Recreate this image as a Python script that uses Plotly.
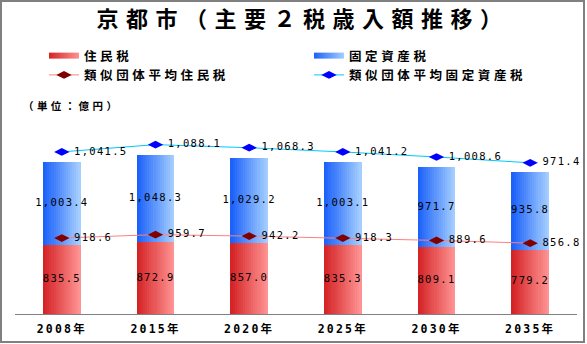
import plotly.graph_objects as go

# ---- data (億円) ----
years = ["2008年", "2015年", "2020年", "2025年", "2030年", "2035年"]
resident_tax = [835.5, 872.9, 857.0, 835.3, 809.1, 779.2]          # 住民税
property_tax = [1003.4, 1048.3, 1029.2, 1003.1, 971.7, 935.8]       # 固定資産税
peer_resident_tax = [918.6, 959.7, 942.2, 918.3, 889.6, 856.8]      # 類似団体平均住民税
peer_property_tax = [1041.5, 1088.1, 1068.3, 1041.2, 1008.6, 971.4]  # 類似団体平均固定資産税

series_names = ["住民税", "固定資産税", "類似団体平均住民税", "類似団体平均固定資産税"]
title_text = "京都市（主要２税歳入額推移）"
unit_text = "（単位：億円）"

# ---- styling ----
CJK = "Noto Sans CJK JP"
MONO = "DejaVu Sans Mono, Noto Sans CJK JP"
RED_L, RED_R = (212, 36, 38), (255, 146, 146)
BLUE_L, BLUE_R = (28, 98, 250), (164, 206, 255)
BAR_W = 0.40
N_SLICES = 18


def spaced(text, px):
    return f'<span style="letter-spacing:{px}px">{text}</span>'


def mix(c0, c1, t):
    return "rgb({},{},{})".format(*[round(a + (b - a) * t) for a, b in zip(c0, c1)])


def fmt(v):
    return f"{v:,.1f}"


fig = go.Figure()

# legend swatches for the two bar series (horizontal gradient fill)
for i, (name, c0, c1) in enumerate([(series_names[0], RED_L, RED_R),
                                     (series_names[1], BLUE_L, BLUE_R)]):
    fig.add_trace(go.Scatter(
        x=[None], y=[None], mode="none", fill="toself",
        fillgradient=dict(type="horizontal",
                          colorscale=[[0, mix(c0, c1, 0)], [1, mix(c0, c1, 1)]]),
        name=spaced(name, 3.6), legendrank=i + 1, hoverinfo="skip"))

# stacked bars drawn as thin vertical slices to get a left-to-right gradient
for vals, base, c0, c1 in [(resident_tax, [0] * len(years), RED_L, RED_R),
                           (property_tax, resident_tax, BLUE_L, BLUE_R)]:
    sw = BAR_W / N_SLICES
    for k in range(N_SLICES):
        fig.add_trace(go.Bar(
            x=years, y=vals, base=base,
            offset=-BAR_W / 2 + k * sw, width=sw * 1.02,
            marker=dict(color=mix(c0, c1, k / (N_SLICES - 1)), line=dict(width=0)),
            showlegend=False, hoverinfo="skip"))

# value labels centred in each bar segment
label_font = dict(family=MONO, size=10.5, color="black")
fig.add_trace(go.Scatter(
    x=years, y=[v / 2 for v in resident_tax], mode="text",
    text=[spaced(fmt(v), 1.3) for v in resident_tax], textfont=label_font,
    cliponaxis=False, showlegend=False, hoverinfo="skip"))
fig.add_trace(go.Scatter(
    x=years, y=[r + p / 2 for r, p in zip(resident_tax, property_tax)], mode="text",
    text=[spaced(fmt(v), 1.3) for v in property_tax], textfont=label_font,
    cliponaxis=False, showlegend=False, hoverinfo="skip"))

# peer-group averages (property tax line stacked on top of the resident tax line)
peer_stack = [r + p for r, p in zip(peer_resident_tax, peer_property_tax)]
for i, (name, yv, labels, lc, mc) in enumerate([
        (series_names[2], peer_resident_tax, peer_resident_tax, "#ff7f7f", "#800000"),
        (series_names[3], peer_stack, peer_property_tax, "#00c8ff", "#0000ff")]):
    fig.add_trace(go.Scatter(
        x=years, y=yv, mode="lines+markers", name=spaced(name, 3.6),
        line=dict(color=lc, width=1),
        marker=dict(symbol="diamond-wide", size=11, color=mc, line=dict(width=0)),
        legendrank=i + 3, cliponaxis=False, hoverinfo="skip"))
    # labels to the right of each marker (invisible spacer markers set the gap)
    fig.add_trace(go.Scatter(
        x=years, y=yv, mode="markers+text", text=[spaced(fmt(v), 1.3) for v in labels],
        textposition="middle right", marker=dict(size=18, opacity=0),
        textfont=label_font, cliponaxis=False, showlegend=False, hoverinfo="skip"))

# outer frame
fig.add_shape(type="rect", xref="paper", yref="paper",
              x0=(1 - 15) / 562, x1=(584 - 15) / 562,
              y0=1 - (342 - 95) / 219, y1=1 - (1 - 95) / 219,
              line=dict(color="#808080", width=2), fillcolor="rgba(0,0,0,0)",
              layer="above")

fig.add_annotation(text=spaced(unit_text, 3.4), xref="paper", yref="paper",
                   x=(21 - 15) / 562, y=1 - (105.7 - 95) / 219,
                   xanchor="left", yanchor="middle", showarrow=False,
                   font=dict(family=CJK, size=10.5, color="black", weight="bold"))

fig.update_layout(
    width=587, height=344,
    margin=dict(l=15, r=10, t=95, b=30, autoexpand=False),
    paper_bgcolor="white", plot_bgcolor="white",
    barmode="overlay", bargap=0,
    title=dict(text=spaced(title_text, 7.5), x=0.516, xanchor="center",
               yref="container", y=(344 - 19) / 344, yanchor="middle",
               font=dict(family=CJK, size=22, color="black", weight="bold")),
    legend=dict(orientation="h", xref="container", yref="container",
                x=44 / 587, xanchor="left", y=1 - 41 / 344, yanchor="top",
                entrywidth=220, entrywidthmode="pixels",
                font=dict(family=CJK, size=12.5, color="black", weight="bold"),
                bgcolor="rgba(0,0,0,0)"),
    xaxis=dict(type="category", categoryorder="array", categoryarray=years,
               tickvals=years, ticktext=[spaced(y, 2.2) for y in years],
               range=[-0.5, len(years) - 0.5],
               showline=True, linecolor="#808080", linewidth=1,
               showgrid=False, zeroline=False, ticks="", ticklabelstandoff=4,
               tickfont=dict(family=MONO, size=11.5, color="black", weight="bold")),
    yaxis=dict(visible=False, range=[0, 2648], showgrid=False, zeroline=False),
    showlegend=True,
)

fig.write_html("out.html")
